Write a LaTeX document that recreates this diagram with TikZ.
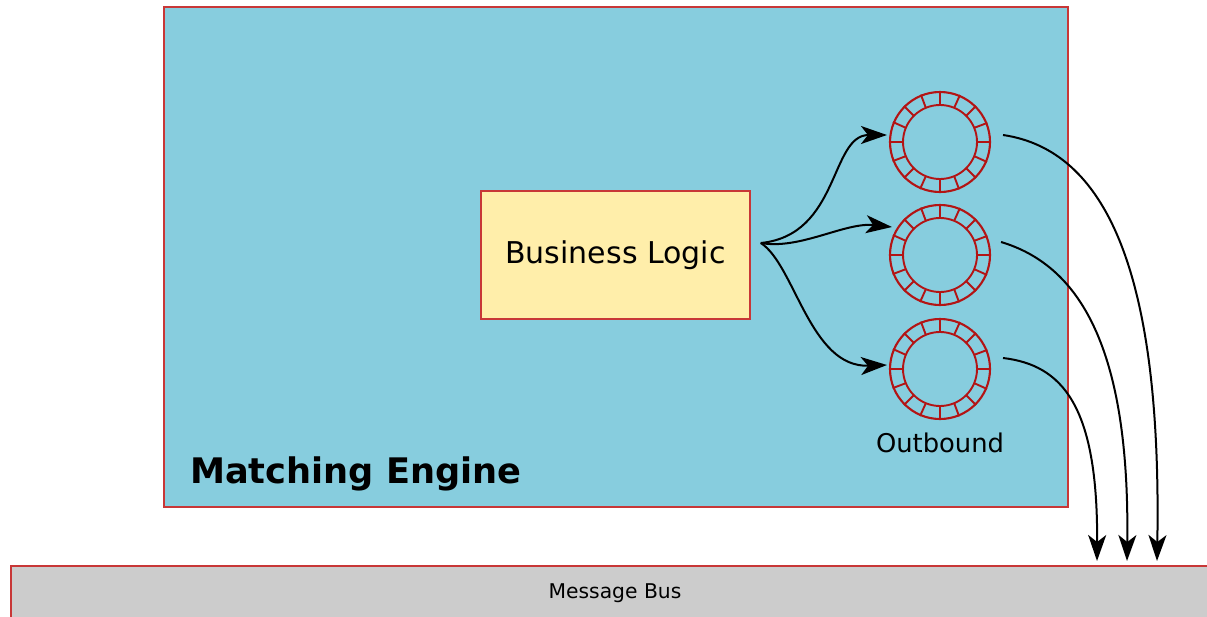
\documentclass[tikz,border=0pt]{standalone}
\usepackage{fontspec}
\setmainfont{DejaVu Sans}
\usetikzlibrary{arrows.meta,calc}
\definecolor{enginefill}{HTML}{87CDDE}
\definecolor{logicfill}{HTML}{FFEEAA}
\definecolor{busfill}{HTML}{CCCCCC}
\definecolor{edgered}{HTML}{C83737}
\definecolor{ringred}{HTML}{B31414}
\tikzset{
  panel/.style={rectangle, draw=edgered, line width=1.6pt, inner sep=0pt},
  ring/.style={circle, draw=ringred, line width=2.1pt, minimum size=100pt, inner sep=0pt},
  ringline/.style={draw=ringred, line width=1.9pt},
  flow/.style={draw=black, line width=2pt,
    -{Stealth[length=26pt, width=18pt, inset=7pt]}},
}
\begin{document}
\begin{tikzpicture}[x=1pt, y=-1pt]
\useasboundingbox (0,0) rectangle (1207,616);
\fill[white] (0,0) rectangle (1207,616);

% engine container
\node[panel, fill=enginefill, minimum width=904pt, minimum height=500pt,
      anchor=north west] (me) at (163,6) {};
\node[anchor=base west, inner sep=0pt, font=\fontsize{35.2}{40}\selectfont\bfseries]
  (metitle) at (190,483) {Matching Engine};

% business logic block
\node[panel, fill=logicfill, minimum width=269pt, minimum height=128pt,
      font=\fontsize{30}{36}\selectfont] (bl) at (615.5,255) {Business Logic};

% outbound ring buffers
\node[ring] (r1) at (940,142) {};
\node[ring] (r2) at (940,255) {};
\node[ring] (r3) at (940,369) {};
\foreach \r in {r1,r2,r3}{
  \draw[ringline] (\r.center) circle (37pt);
  \foreach \a in {0,22.5,...,337.5}
    \draw[ringline] ($(\r.center)+(\a:37pt)$) -- (\r.\a);
}
\node[anchor=base, inner sep=0pt, font=\fontsize{25.8}{30}\selectfont] (outlbl) at (940,452) {Outbound};

% message bus
\node[panel, fill=busfill, minimum width=1220pt, minimum height=80pt,
      anchor=north west] (bus) at (10,565) {};
\node[anchor=base, inner sep=0pt, font=\fontsize{20.3}{24}\selectfont] (buslbl) at (615,598) {Message Bus};

% fan-out from the business logic to the rings
\coordinate (src) at ($(bl.east)+(10,-12)$);
\coordinate (in1) at ($(r1.west)+(-2,-7)$);
\coordinate (in2) at ($(r2.west)+(3,-28)$);
\coordinate (in3) at ($(r3.west)+(-2,-4)$);
\draw[flow] (src) .. controls (840,235) and (830,135) .. (in1);
\draw[flow] (src) .. controls (800,250) and (845,222) .. (in2);
\draw[flow] (src) .. controls (795,265) and (810,368) .. (in3);

% rings publishing onto the bus
\coordinate (out1) at ($(r1.east)+(12,-7)$);
\coordinate (out2) at ($(r2.east)+(10,-13)$);
\coordinate (out3) at ($(r3.east)+(12,-11)$);
\coordinate (bus1) at (1157,561);
\coordinate (bus2) at (1127,561);
\coordinate (bus3) at (1097,561);
\draw[flow] (out1) .. controls (1105,150) and (1162,270) .. (bus1);
\draw[flow] (out2) .. controls (1078,265) and (1130,345) .. (bus2);
\draw[flow] (out3) .. controls (1062,365) and (1098,405) .. (bus3);
\end{tikzpicture}
\end{document}
